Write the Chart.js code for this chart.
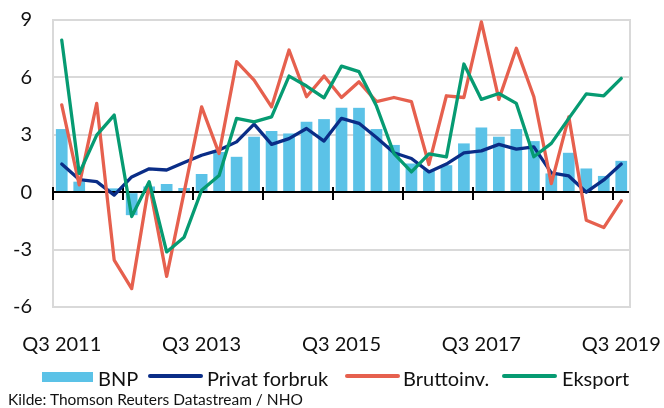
<!DOCTYPE html>
<html><head><meta charset="utf-8">
<script src="https://cdn.jsdelivr.net/npm/chart.js@4/dist/chart.umd.min.js"></script>
<style>
html,body{margin:0;padding:0;background:#fff;}
#wrap{position:relative;width:664px;height:408px;overflow:hidden;font-family:Lato,sans-serif;color:#111;}
canvas{position:absolute;left:0;top:0;}
.lg{position:absolute;font-size:20px;line-height:24px;top:366px;white-space:nowrap;}
.sw{position:absolute;}
#src{position:absolute;left:8px;top:390px;font-size:15.5px;line-height:18px;white-space:nowrap;}
</style></head>
<body>
<div id="wrap">
<canvas id="c" width="664" height="408"></canvas>
<div id="legend"></div>
<div id="src">Kilde: Thomson Reuters Datastream / NHO</div>
</div>
<script>
const categories = ["Q3 2011","Q4 2011","Q1 2012","Q2 2012","Q3 2012","Q4 2012","Q1 2013","Q2 2013",
  "Q3 2013","Q4 2013","Q1 2014","Q2 2014","Q3 2014","Q4 2014","Q1 2015","Q2 2015",
  "Q3 2015","Q4 2015","Q1 2016","Q2 2016","Q3 2016","Q4 2016","Q1 2017","Q2 2017",
  "Q3 2017","Q4 2017","Q1 2018","Q2 2018","Q3 2018","Q4 2018","Q1 2019","Q2 2019","Q3 2019"];
const bnp = [3.3,0.55,0.0,0.2,-1.2,0.3,0.43,0.22,0.95,2.1,1.85,2.9,3.2,3.07,3.68,3.82,4.41,4.41,3.3,2.47,1.5,1.15,1.41,2.55,3.38,2.9,3.3,2.67,0.98,2.06,1.24,0.85,1.64];
const privatForbruk = [1.47,0.66,0.55,-0.15,0.8,1.22,1.16,1.55,1.93,2.2,2.63,3.56,2.5,2.8,3.33,2.67,3.86,3.6,2.86,2.06,1.76,1.06,1.47,2.06,2.16,2.5,2.25,2.37,1.01,0.85,0.0,0.64,1.47];
const bruttoinv = [4.56,0.38,4.64,-3.55,-5.04,0.45,-4.4,0.0,4.46,2.02,6.82,5.86,4.46,7.43,4.99,6.07,4.95,5.77,4.73,4.95,4.73,1.45,5.04,4.95,8.9,4.85,7.52,4.99,0.45,3.94,-1.47,-1.85,-0.45];
const eksport = [7.95,0.98,2.98,4.03,-1.27,0.55,-3.12,-2.35,0.1,0.87,3.86,3.68,3.94,6.07,5.55,4.93,6.59,6.3,4.5,2.02,1.06,2.0,1.84,6.7,4.85,5.16,4.64,1.85,2.55,3.86,5.14,5.04,5.95];
const seriesNames = ["BNP","Privat forbruk","Bruttoinv.","Eksport"];
const yMin = -6, yMax = 9, yStep = 3;
const labelEvery = 8, tickEvery = 4;

const COL = {bnp:'#5BC2E7', privat:'#0A2D87', brutto:'#E6604E', eksport:'#069B72'};
const FONT = 'Lato';

const axisPlugin = {
  id:'axisDeco',
  afterDatasetDraw(chart,args){
    if(args.index!==0) return;
    const {ctx, chartArea:a, scales:{x,y}} = chart;
    const y0 = Math.round(y.getPixelForValue(0));
    ctx.save();
    ctx.strokeStyle='#000'; ctx.lineWidth=2;
    ctx.beginPath(); ctx.moveTo(a.left,y0); ctx.lineTo(a.right,y0);
    const half = (x.getPixelForValue(1)-x.getPixelForValue(0))/2;
    for(let i=0;i<categories.length;i+=tickEvery){
      const px = Math.round(x.getPixelForValue(i)-half);
      ctx.moveTo(px,y0-5); ctx.lineTo(px,y0+8);
    }
    ctx.stroke();
    ctx.strokeStyle='#d9d9d9'; ctx.lineWidth=2;
    ctx.beginPath(); ctx.moveTo(Math.round(a.right),a.top-1); ctx.lineTo(Math.round(a.right),a.bottom+1); ctx.stroke();
    ctx.restore();
  }
};

const lineDs = (label,data,color,order)=>({type:'line',label,data,borderColor:color,backgroundColor:color,
  borderWidth:3.3,pointRadius:0,tension:0,order,borderJoinStyle:'round',borderCapStyle:'round'});

const chart = new Chart(document.getElementById('c'), {
  data:{labels:categories, datasets:[
    {type:'bar',label:seriesNames[0],data:bnp,backgroundColor:COL.bnp,barPercentage:0.67,categoryPercentage:1,order:4},
    lineDs(seriesNames[1],privatForbruk,COL.privat,3),
    lineDs(seriesNames[2],bruttoinv,COL.brutto,2),
    lineDs(seriesNames[3],eksport,COL.eksport,1)
  ]},
  options:{
    responsive:false, animation:false, devicePixelRatio:1,
    layout:{padding:{left:0,right:34,top:20,bottom:0}},
    plugins:{legend:{display:false},tooltip:{enabled:false}},
    scales:{
      x:{offset:true,grid:{display:false},border:{display:false},
        ticks:{autoSkip:false,maxRotation:0,minRotation:0,padding:18,color:'#111',font:{family:FONT,size:20},
          callback:(v,i)=> i%labelEvery===0 ? categories[i] : ''},
        afterFit:s=>{s.height=101; s.paddingLeft=0; s.paddingRight=0;}},
      y:{min:yMin,max:yMax,afterFit:s=>{s.width=53; s.paddingTop=0; s.paddingBottom=0;},
        ticks:{stepSize:yStep,padding:21,color:'#111',font:{family:FONT,size:20}},
        grid:{color:'#d9d9d9',lineWidth:2,drawTicks:false},
        border:{color:'#d9d9d9',width:2}}
    }
  },
  plugins:[axisPlugin]
});

// HTML legend
const legendItems = [
  {name:seriesNames[0],color:COL.bnp,box:true,sx:42,tx:98},
  {name:seriesNames[1],color:COL.privat,box:false,sx:148,tx:207},
  {name:seriesNames[2],color:COL.brutto,box:false,sx:345,tx:403},
  {name:seriesNames[3],color:COL.eksport,box:false,sx:502,tx:562}
];
const lg = document.getElementById('legend');
legendItems.forEach(it=>{
  const sw = document.createElement('div'); sw.className='sw';
  if(it.box){ Object.assign(sw.style,{left:it.sx+'px',top:'372px',width:'51px',height:'10px',background:it.color}); }
  else { Object.assign(sw.style,{left:it.sx+'px',top:'374px',width:'55px',height:'3.5px',background:it.color,borderRadius:'2px'}); }
  lg.appendChild(sw);
  const t = document.createElement('div'); t.className='lg'; t.style.left=it.tx+'px'; t.textContent=it.name;
  lg.appendChild(t);
});
</script>
</body></html>
